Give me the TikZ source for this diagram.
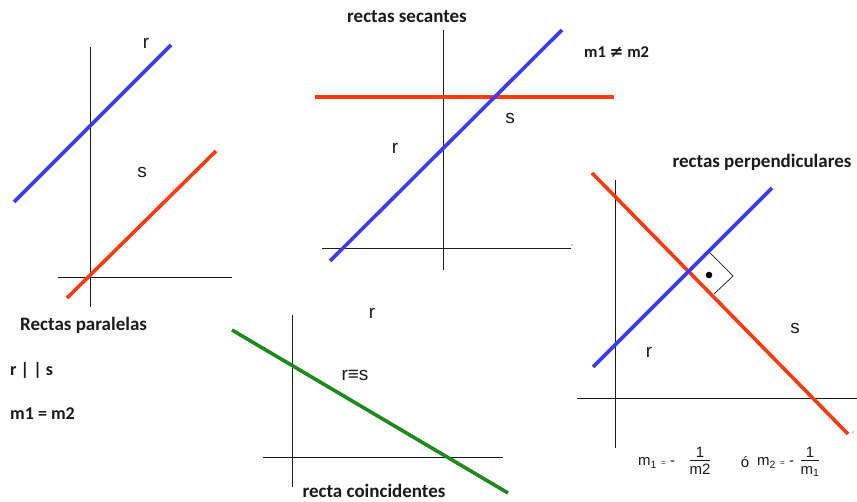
\documentclass[tikz,border=0pt]{standalone}
\usepackage{fontspec}
\setmainfont{Liberation Sans}
\newfontfamily\calfont{Carlito}
\newfontfamily\symfont{DejaVu Sans}
\usetikzlibrary{positioning}
\definecolor{rblue}{HTML}{3C3CF2}
\definecolor{sred}{HTML}{FF3A10}
\definecolor{cgreen}{HTML}{1C8A1C}
\definecolor{ink}{HTML}{1A1A1A}
\newcommand{\frc}[2]{\begin{tabular}{@{}c@{}}#1\\[-2pt]\hline\rule{0pt}{14pt}#2\end{tabular}}
\newcommand{\subn}[1]{{\fontsize{8}{8}\selectfont #1}}

\begin{document}
\begin{tikzpicture}[x=1pt,y=-1pt,
  ax/.style={draw=ink,line width=0.8pt},
  ln/.style={line width=3.6pt},
  lbl/.style={font=\fontsize{19}{19}\selectfont,text=ink,inner sep=0pt},
  ttl/.style={font=\calfont\bfseries\fontsize{19}{19}\selectfont,text=ink,inner sep=0pt},
  fml/.style={font=\fontsize{15}{15}\selectfont,text=ink,inner sep=0pt}]
\useasboundingbox (0,0) rectangle (857,502);

% rectas paralelas
\draw[ax] (90,47) -- (90,307);
\draw[ax] (58,277) -- (232,277);
\draw[ln,rblue] (14,202) -- (171,45);
\draw[ln,sred] (67,298) -- (216,151);
\node[lbl] (r1) at (146,43) {r};
\node[lbl] (s1) at (142,172) {s};
\node[ttl,anchor=west] (tpar) at (20,325) {Rectas paralelas};
\node[ttl,anchor=west,font=\calfont\bfseries\fontsize{18}{18}\selectfont] (rs) at (10,370) {r | | s};
\node[ttl,anchor=west,font=\calfont\bfseries\fontsize{18}{18}\selectfont] (meq) at (10,414) {m1 = m2};

% rectas secantes
\draw[ax] (443,30) -- (443,270);
\draw[ax] (322,248) -- (571,248);
\draw[ln,sred] (315,97) -- (614,97);
\draw[ln,rblue] (330,261) -- (562,30);
\node[lbl] (s2) at (510,118) {s};
\node[lbl] (r2) at (395,148) {r};
\node[ttl] (tsec) at (407,17) {rectas secantes};
\node[ttl,anchor=west,font=\calfont\bfseries\fontsize{16.5}{16.5}\selectfont] (mneq) at (584,52) {m1 {\symfont\bfseries ≠} m2};

% rectas perpendiculares
\draw[ax] (615,180) -- (615,448);
\draw[ax] (577,398) -- (857,398);
\draw[ln,sred] (592,173) -- (848,434);
\draw[ln,rblue] (593,367) -- (772,188);
\draw[line width=0.7pt,ink] (710,253) -- (733,276) -- (714,294);
\fill[black] (709,275) circle (3.3);
\node[lbl] (s3) at (795,328) {s};
\node[lbl] (r3) at (649,352) {r};
\node[ttl] (tper) at (762,162) {rectas perpendiculares};
\fill[ink] (572,245) circle (0.6);
\fill[ink] (853,432) circle (0.6);

% formula
\node[fml,anchor=west] (m1) at (638,463) {m\textsubscript{1} \subn{=} -};
\node[fml] (f1) at (700,463) {\frc{1}{m2}};
\node[fml] (o) at (745,462) {ó};
\node[fml,anchor=west] (m2) at (757,463) {m\textsubscript{2} \subn{=} -};
\node[fml] (f2) at (810,463) {\frc{1}{m\textsubscript{1}}};

% recta coincidentes
\draw[ax] (292,315) -- (292,487);
\draw[ax] (263,457) -- (503,457);
\draw[ln,cgreen] (232,330) -- (508,493);
\node[lbl] (r4) at (372,313) {r};
\node[lbl] (rs4) at (355,375) {r≡s};
\node[ttl] (tcoi) at (374,491) {recta coincidentes};
\end{tikzpicture}
\end{document}
